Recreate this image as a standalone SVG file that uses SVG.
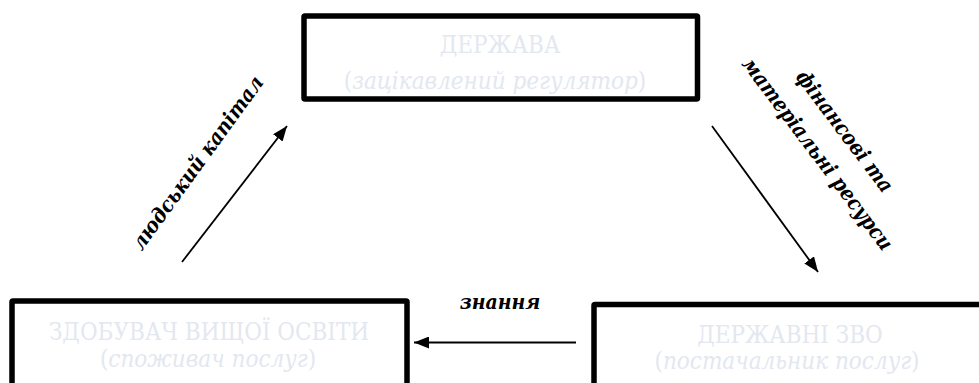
<svg xmlns="http://www.w3.org/2000/svg" width="979" height="383" viewBox="0 0 979 383">
<style>
.box{fill:#ffffff;stroke:#000000;stroke-width:5.5;}
.nt{font-family:'DejaVu Serif Condensed','DejaVu Serif',serif;font-size:24px;fill:#e3e7f0;text-anchor:middle;}
.it{font-style:italic;}
.lbl{font-family:'DejaVu Serif Condensed','DejaVu Serif',serif;font-size:21px;font-weight:bold;font-style:italic;fill:#000000;text-anchor:middle;}
.conn{stroke:#000000;stroke-width:1.8;fill:none;}
</style>
<defs>
<marker id="ah" markerUnits="userSpaceOnUse" markerWidth="16" markerHeight="12" refX="15" refY="6" orient="auto">
<path d="M0,0 L15,6 L0,12 Z" fill="#000000"/>
</marker>
</defs>
<rect width="979" height="383" fill="#ffffff"/>
<g id="connectors">
<line class="conn" x1="182" y1="262" x2="287" y2="126" marker-end="url(#ah)"/>
<line class="conn" x1="712" y1="126" x2="818" y2="272" marker-end="url(#ah)"/>
<line class="conn" x1="576" y1="342.5" x2="414" y2="342.5" marker-end="url(#ah)"/>
<text class="lbl" transform="translate(203,167) rotate(-54)">людський капітал</text>
<text class="lbl" transform="translate(839,135.5) rotate(53)">фінансові та</text>
<text class="lbl" transform="translate(812,158) rotate(53)">матеріальні ресурси</text>
<text class="lbl" x="500" y="309">знання</text>
</g>
<g id="node-derzhava">
<rect class="box" x="304" y="16" width="393.5" height="83" rx="1"/>
<text class="nt" x="500" y="52.5">ДЕРЖАВА</text>
<text class="nt" x="495" y="88.5">(<tspan class="it">зацікавлений регулятор</tspan>)</text>
</g>
<g id="node-zdobuvach">
<rect class="box" x="12" y="301" width="395" height="100" rx="1"/>
<text class="nt" x="209" y="340">ЗДОБУВАЧ ВИЩОЇ ОСВІТИ</text>
<text class="nt" x="208" y="367">(<tspan class="it">споживач послуг</tspan>)</text>
</g>
<g id="node-zvo">
<rect class="box" x="594" y="304.5" width="400" height="100" rx="1"/>
<text class="nt" x="790" y="342.5">ДЕРЖАВНІ ЗВО</text>
<text class="nt" x="787" y="369">(<tspan class="it">постачальник послуг</tspan>)</text>
</g>
</svg>
